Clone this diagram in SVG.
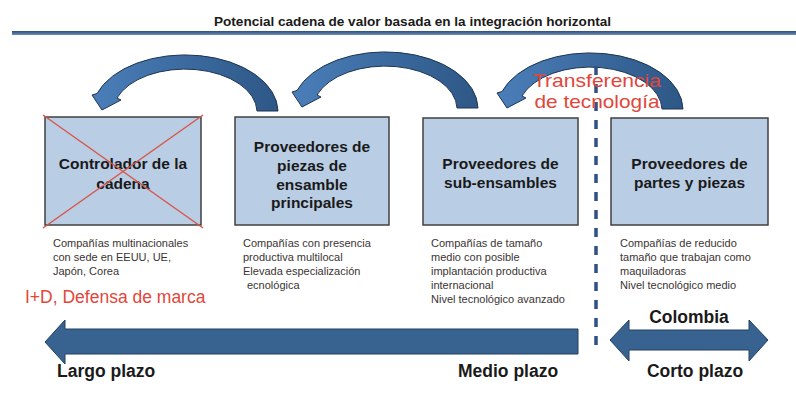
<svg xmlns="http://www.w3.org/2000/svg" xmlns:xlink="http://www.w3.org/1999/xlink" width="796" height="398" viewBox="0 0 796 398">
<defs>
<linearGradient id="arcGrad" x1="0" y1="0" x2="1" y2="0">
<stop offset="0" stop-color="#4B7EB9"/>
<stop offset="1" stop-color="#2D5786"/>
</linearGradient>
<linearGradient id="lineGrad" x1="0" y1="0" x2="0" y2="1">
<stop offset="0" stop-color="#2A4F7C"/>
<stop offset="1" stop-color="#6C8DB5"/>
</linearGradient>
<path id="curveArrow" d="M278,111 A93,57 0 0 0 97,93.5 L92,95 L102,110 L121,100 L117,98 A72,43 0 0 1 257,111 Z"/>
<style>
.box{fill:#B9CDE5;stroke:#404040;stroke-width:1.5}
.bt{font-family:"Liberation Sans",Arial,sans-serif;font-weight:bold;font-size:15.5px;fill:#1A1A1A;text-anchor:middle}
.desc{font-family:"Liberation Sans",Arial,sans-serif;font-size:11px;fill:#3A3434}
.lbl{font-family:"Liberation Sans",Arial,sans-serif;font-weight:bold;font-size:17.5px;fill:#1A1A1A}
.red{fill:#E2463A;font-family:"Liberation Sans",Arial,sans-serif}
.arc{fill:url(#arcGrad);stroke:#1E3550;stroke-width:1}
.big{fill:#386390;stroke:#22405F;stroke-width:1}
</style>
</defs>
<rect width="796" height="398" fill="#FFFFFF"/>

<g id="title">
<text x="214" y="26" font-family="Liberation Sans, Arial, sans-serif" font-weight="bold" font-size="12" fill="#1A1A1A" textLength="397" lengthAdjust="spacingAndGlyphs">Potencial cadena de valor basada en la integración horizontal</text>
<rect x="12" y="31" width="784" height="4" fill="url(#lineGrad)"/>
</g>

<g id="connectors">
<use xlink:href="#curveArrow" href="#curveArrow" class="arc"/>
<use xlink:href="#curveArrow" href="#curveArrow" class="arc" transform="translate(200,-3)"/>
<use xlink:href="#curveArrow" href="#curveArrow" class="arc" transform="translate(405,-2)"/>
<line x1="596" y1="66" x2="596" y2="345" stroke="#2F5283" stroke-width="3.5" stroke-dasharray="9,9"/>
</g>

<g id="tech-transfer">
<text class="red" x="597" y="87" font-size="19" text-anchor="middle" textLength="128" lengthAdjust="spacingAndGlyphs">Transferencia</text>
<text class="red" x="597" y="108" font-size="19" text-anchor="middle" textLength="125" lengthAdjust="spacingAndGlyphs">de tecnología</text>
</g>

<g id="node-controlador">
<rect class="box" x="45" y="117" width="156" height="108"/>
<text class="bt" x="123" y="169">Controlador de la</text>
<text class="bt" x="123" y="189">cadena</text>
<line x1="43" y1="115" x2="203" y2="228" stroke="#D9574A" stroke-width="1.5"/>
<line x1="203" y1="115" x2="43" y2="228" stroke="#D9574A" stroke-width="1.5"/>
<text class="desc" x="53" y="247">Compañías multinacionales</text>
<text class="desc" x="53" y="261">con sede en EEUU, UE,</text>
<text class="desc" x="53" y="275">Japón, Corea</text>
</g>

<g id="node-ensamble">
<rect class="box" x="235" y="117" width="154" height="108"/>
<text class="bt" x="312" y="152">Proveedores de</text>
<text class="bt" x="312" y="171">piezas de</text>
<text class="bt" x="312" y="189.5">ensamble</text>
<text class="bt" x="312" y="208">principales</text>
<text class="desc" x="243" y="247">Compañías con presencia</text>
<text class="desc" x="243" y="261">productiva multilocal</text>
<text class="desc" x="243" y="275">Elevada especialización</text>
<text class="desc" x="247" y="289">ecnológica</text>
</g>

<g id="node-subensambles">
<rect class="box" x="423" y="118" width="155" height="107"/>
<text class="bt" x="500.5" y="169">Proveedores de</text>
<text class="bt" x="500.5" y="188">sub-ensambles</text>
<text class="desc" x="431" y="247">Compañías de tamaño</text>
<text class="desc" x="431" y="261">medio con posible</text>
<text class="desc" x="431" y="275">implantación productiva</text>
<text class="desc" x="431" y="289">internacional</text>
<text class="desc" x="431" y="303">Nivel tecnológico avanzado</text>
</g>

<g id="node-partes">
<rect class="box" x="611" y="118" width="157" height="107"/>
<text class="bt" x="689.5" y="169">Proveedores de</text>
<text class="bt" x="689.5" y="188">partes y piezas</text>
<text class="desc" x="620" y="247">Compañías de reducido</text>
<text class="desc" x="620" y="261">tamaño que trabajan como</text>
<text class="desc" x="620" y="275">maquiladoras</text>
<text class="desc" x="620" y="289">Nivel tecnológico medio</text>
</g>

<g id="id-label">
<text class="red" x="25" y="303" font-size="17.5">I+D, Defensa de marca</text>
</g>

<g id="timeline-left">
<path class="big" d="M45,342 L65,320 L65,329 L578,329 L578,354 L65,354 L65,364 Z"/>
<text class="lbl" x="57" y="377">Largo plazo</text>
<text class="lbl" x="458" y="377">Medio plazo</text>
</g>

<g id="timeline-colombia">
<path class="big" d="M610,340 L629,320 L629,330 L749,330 L749,320 L768,340 L749,361 L749,350 L629,350 L629,361 Z"/>
<text class="lbl" x="689" y="323" text-anchor="middle">Colombia</text>
<text class="lbl" x="695" y="377" text-anchor="middle">Corto plazo</text>
</g>
</svg>
